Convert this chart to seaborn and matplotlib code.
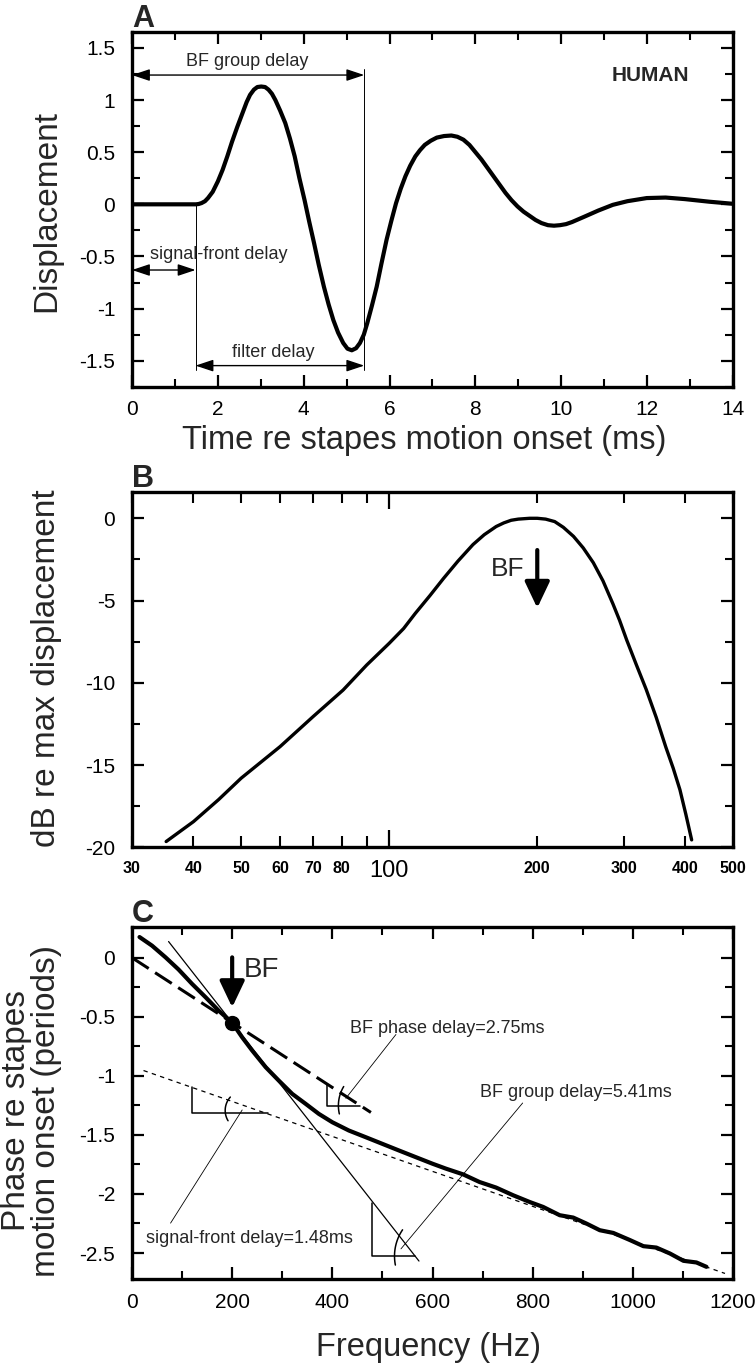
import numpy as np
import matplotlib
matplotlib.use("Agg")
import matplotlib.pyplot as plt
import matplotlib.ticker as mticker
import seaborn as sns

# ---- panel A: BM displacement vs time ----
time_ms = [0, 1.49, 1.55, 1.62, 1.70, 1.77, 1.88, 2.0, 2.11, 2.22, 2.33, 2.45,
           2.56, 2.67, 2.75, 2.84, 2.92, 3.01, 3.10, 3.18, 3.26, 3.34, 3.45,
           3.57, 3.68, 3.79, 3.90, 4.02, 4.13, 4.24, 4.35, 4.47, 4.58, 4.69,
           4.80, 4.92, 5.02, 5.12, 5.22, 5.31, 5.40, 5.48, 5.59, 5.70, 5.81,
           5.93, 6.04, 6.15, 6.26, 6.37, 6.48, 6.60, 6.71, 6.82, 6.96, 7.10,
           7.27, 7.44, 7.58, 7.72, 7.86, 8.00, 8.14, 8.28, 8.42, 8.56, 8.70,
           8.84, 8.98, 9.12, 9.26, 9.40, 9.54, 9.69, 9.83, 9.97, 10.11, 10.25,
           10.53, 10.86, 11.20, 11.54, 11.99, 12.43, 12.88, 13.45, 14.0]
displacement = [0, 0, 0.003, 0.012, 0.03, 0.06, 0.12, 0.22, 0.33, 0.46, 0.60,
                0.74, 0.86, 0.98, 1.05, 1.10, 1.125, 1.13, 1.125, 1.10, 1.06,
                1.00, 0.90, 0.78, 0.63, 0.46, 0.25, 0.04, -0.17, -0.37, -0.58,
                -0.79, -0.96, -1.11, -1.23, -1.33, -1.385, -1.40, -1.38, -1.33,
                -1.25, -1.14, -0.97, -0.79, -0.57, -0.34, -0.16, 0.01, 0.15,
                0.27, 0.37, 0.46, 0.52, 0.57, 0.61, 0.64, 0.655, 0.66, 0.648,
                0.62, 0.57, 0.50, 0.43, 0.35, 0.27, 0.19, 0.11, 0.04, -0.02,
                -0.07, -0.11, -0.15, -0.18, -0.20, -0.205, -0.20, -0.19, -0.17,
                -0.12, -0.06, -0.005, 0.03, 0.06, 0.065, 0.05, 0.025, 0.005]
bf_group_delay = 5.41
signal_front_delay = 1.48

# ---- panel B: magnitude re max ----
freq_b = [35.2, 40, 45, 50, 60, 70, 80.6, 90, 100, 107, 113, 121, 129, 138,
          148, 156, 165, 171, 177, 183, 193, 200, 208, 217, 226, 237, 248,
          260, 272, 285, 294, 304, 318, 333, 349, 365, 378, 390, 401, 412]
db_re_max = [-19.65, -18.44, -17.1, -15.8, -13.88, -12.06, -10.44, -8.92,
             -7.6, -6.7, -5.78, -4.7, -3.65, -2.6, -1.6, -1.0, -0.5, -0.28,
             -0.12, -0.05, 0, 0, -0.05, -0.2, -0.55, -1.1, -1.8, -2.7, -3.8,
             -5.2, -6.2, -7.4, -8.9, -10.4, -12.1, -13.9, -15.2, -16.5, -18.0,
             -19.55]
b_minor_ticks = [30, 40, 50, 60, 70, 80, 90, 200, 300, 400, 500]
b_minor_labels = ["30", "40", "50", "60", "70", "80", "", "200", "300", "400", "500"]

# ---- panel C: phase re stapes ----
freq_c = [15, 40, 67, 93, 120, 147, 173, 200, 220, 240, 267, 293, 320, 347,
          373, 400, 433, 467, 500, 533, 567, 600, 627, 661, 694, 727, 761,
          794, 821, 854, 881, 907, 934, 961, 994, 1021, 1047, 1074, 1101,
          1127, 1147]
phase_c = [0.175, 0.102, 0.003, -0.10, -0.222, -0.335, -0.448, -0.55, -0.674,
           -0.786, -0.927, -1.04, -1.153, -1.238, -1.322, -1.393, -1.463,
           -1.52, -1.576, -1.632, -1.689, -1.744, -1.786, -1.834, -1.899,
           -1.946, -2.011, -2.068, -2.11, -2.18, -2.2, -2.25, -2.307, -2.33,
           -2.39, -2.442, -2.454, -2.504, -2.566, -2.58, -2.617]
bf_hz = 200
bf_phase = -0.55
phase_line_f = [0, 477]
phase_line_ph = [0, -1.31]
group_line_f = [73, 573]
group_line_ph = [0.137, -2.568]
front_line_f = [23, 1184]
front_line_ph = [-0.955, -2.673]

sns.set_style("ticks")
plt.rcParams['font.family'] = ['Liberation Sans', 'DejaVu Sans']
plt.rcParams['axes.unicode_minus'] = False

fig = plt.figure(figsize=(7.56, 13.69), dpi=100)
L, W = 132 / 756, 601 / 756
axA = fig.add_axes([L, 1 - 387.3 / 1369, W, 355 / 1369])
axB = fig.add_axes([L, 1 - 847.3 / 1369, W, 355 / 1369])
axC = fig.add_axes([L, 1 - 1279 / 1369, W, 352 / 1369])


def style(ax):
    for s in ax.spines.values():
        s.set_visible(True)
        s.set_linewidth(2.4)
        s.set_color("black")
    ax.tick_params(which="both", direction="in", top=True, right=True,
                   colors="black")
    ax.tick_params(which="major", length=8.5, width=1.6, labelsize=15, pad=9)
    ax.tick_params(which="minor", length=5.5, width=1.5)
    ax.tick_params(axis="y", which="major", pad=12)


def arrow(ax, x0, y0, x1, y1, style="<|-|>,head_length=0.9,head_width=0.3",
          lw=1.0, ms=12):
    ax.annotate("", xy=(x1, y1), xytext=(x0, y0),
                arrowprops=dict(arrowstyle=style, color="black", lw=lw,
                                shrinkA=0, shrinkB=0, mutation_scale=ms))


# ================= A =================
sns.lineplot(x=time_ms, y=displacement, ax=axA, color="black", lw=3.0,
             estimator=None, sort=False)
axA.set_xlim(0, 14)
axA.set_ylim(-1.755, 1.65)
axA.xaxis.set_major_locator(mticker.MultipleLocator(2))
axA.xaxis.set_minor_locator(mticker.MultipleLocator(1))
axA.yaxis.set_major_locator(mticker.MultipleLocator(0.5))
axA.yaxis.set_minor_locator(mticker.MultipleLocator(0.25))
axA.yaxis.set_major_formatter(mticker.FuncFormatter(lambda v, p: f"{v:g}"))
style(axA)
axA.set_xlabel("Time re stapes motion onset (ms)", fontsize=23.5, va="top")
axA.xaxis.set_label_coords(0.486, -0.105)
axA.set_ylabel("Displacement", fontsize=24)
axA.yaxis.set_label_coords(-0.1165, 0.497)

axA.plot([signal_front_delay, signal_front_delay], [0, -1.59], color="black", lw=0.7)
axA.plot([bf_group_delay, bf_group_delay], [1.30, -1.59], color="black", lw=0.7)
arrow(axA, 0, 1.24, bf_group_delay, 1.24)
arrow(axA, 0, -0.63, signal_front_delay, -0.63)
arrow(axA, signal_front_delay, -1.547, bf_group_delay, -1.547)
axA.text(2.68, 1.374, "BF group delay", fontsize=13, ha="center", va="center")
axA.text(0.43, -0.486, "signal-front delay", fontsize=13, ha="left", va="center")
axA.text(3.29, -1.426, "filter delay", fontsize=13, ha="center", va="center")
axA.text(12.07, 1.232, "HUMAN", fontsize=15, fontweight="bold", ha="center", va="center")

# ================= B =================
axB.set_xscale("log")
sns.lineplot(x=freq_b, y=db_re_max, ax=axB, color="black", lw=2.4,
             estimator=None, sort=False)
axB.set_xlim(30, 500)
axB.set_ylim(-20, 1.58)
axB.xaxis.set_major_locator(mticker.FixedLocator([100]))
axB.xaxis.set_major_formatter(mticker.FixedFormatter(["100"]))
axB.xaxis.set_minor_locator(mticker.FixedLocator(b_minor_ticks))
axB.xaxis.set_minor_formatter(mticker.FixedFormatter(b_minor_labels))
axB.yaxis.set_major_locator(mticker.MultipleLocator(5))
axB.yaxis.set_minor_locator(mticker.MultipleLocator(2.5))
style(axB)
axB.tick_params(axis="x", which="major", length=12, labelsize=17, pad=9)
axB.tick_params(axis="x", which="minor", length=8, width=1.5, labelsize=11.5, pad=10)
for t in axB.xaxis.get_minorticklabels():
    t.set_fontweight("bold")
axB.set_ylabel("dB re max displacement", fontsize=24)
axB.yaxis.set_label_coords(-0.1165, 0.504)
arrow(axB, 200, -1.93, 200, -5.45, style="-|>,head_length=0.8,head_width=0.38",
      lw=3, ms=20)
axB.text(188, -3.08, "BF", fontsize=19, ha="right", va="center")

# ================= C =================
sns.lineplot(x=freq_c, y=phase_c, ax=axC, color="black", lw=3.0,
             estimator=None, sort=False)
axC.plot(phase_line_f, phase_line_ph, color="black", lw=2.2, dashes=(6.5, 2.5))
axC.plot(group_line_f, group_line_ph, color="black", lw=0.9)
axC.plot(front_line_f, front_line_ph, color="black", lw=0.9, dashes=(3.5, 3.5))
axC.plot([bf_hz], [bf_phase], "o", color="black", ms=10)
axC.set_xlim(0, 1200)
axC.set_ylim(-2.72, 0.26)
axC.xaxis.set_major_locator(mticker.MultipleLocator(200))
axC.xaxis.set_minor_locator(mticker.MultipleLocator(100))
axC.yaxis.set_major_locator(mticker.MultipleLocator(0.5))
axC.yaxis.set_minor_locator(mticker.MultipleLocator(0.25))
axC.yaxis.set_major_formatter(mticker.FuncFormatter(lambda v, p: f"{v:g}"))
style(axC)
axC.tick_params(axis="x", which="major", pad=10)
axC.set_xlabel("Frequency (Hz)", fontsize=23.5, va="top")
axC.xaxis.set_label_coords(0.494, -0.15)
axC.set_ylabel("Phase re stapes\nmotion onset (periods)", fontsize=24,
               linespacing=0.95)
axC.yaxis.set_label_coords(-0.1165, 0.478)

arrow(axC, bf_hz, 0.003, bf_hz, -0.42, style="-|>,head_length=0.8,head_width=0.38",
      lw=3, ms=20)
axC.text(223, -0.107, "BF", fontsize=20, ha="left", va="center")

# slope triangles, angle arcs, leaders
thin = dict(color="black", lw=1.1)
axC.plot([120, 120, 272], [-1.094, -1.318, -1.318], **thin)
axC.plot([390, 390, 456], [-1.069, -1.255, -1.255], **thin)
axC.plot([480, 480, 565], [-2.078, -2.526, -2.526], **thin)

fig.canvas.draw()
px_x = axC.bbox.width / 1200.0
px_y = axC.bbox.height / (0.26 + 2.72)
arcs = [  # centre f, centre phase, radius px, start deg, end deg
    (226, -1.293, 20, 138, 211),
    (486, -1.252, 37, 149, 193),
    (618, -2.526, 47, 146, 191),
]
for cf, cp, r, a0, a1 in arcs:
    t = np.radians(np.linspace(a0, a1, 40))
    axC.plot(cf + r / px_x * np.cos(t), cp + r / px_y * np.sin(t), **thin)

lead = dict(color="black", lw=0.6)
axC.plot([527, 427], [-0.65, -1.19], **lead)
axC.plot([780, 537], [-1.23, -2.465], **lead)
axC.plot([220, 77], [-1.289, -2.247], **lead)
axC.text(435, -0.596, "BF phase delay=2.75ms", fontsize=13, ha="left", va="center")
axC.text(694, -1.145, "BF group delay=5.41ms", fontsize=13, ha="left", va="center")
axC.text(27, -2.378, "signal-front delay=1.48ms", fontsize=13, ha="left", va="center")

for ax, lab in [(axA, "A"), (axB, "B"), (axC, "C")]:
    ax.text(0, 1 + 5 / 355, lab, transform=ax.transAxes, fontsize=22,
            fontweight="bold", ha="left", va="baseline")

fig.savefig("out.png", dpi=100)
